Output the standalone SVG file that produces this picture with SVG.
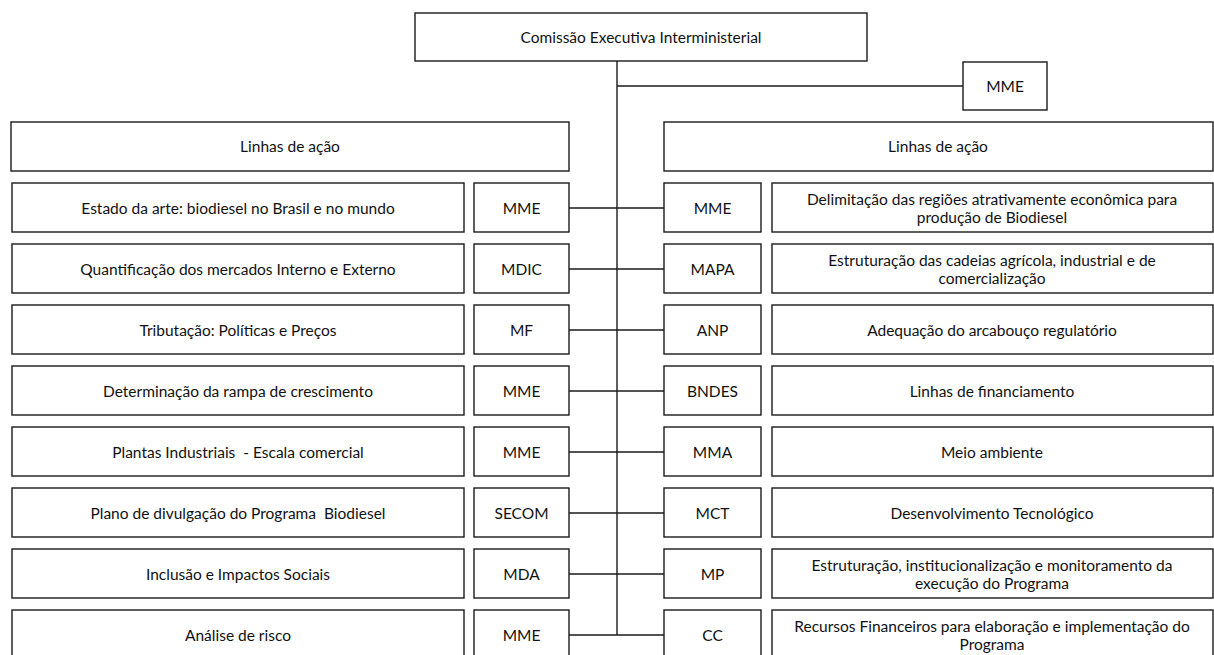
<svg xmlns="http://www.w3.org/2000/svg" width="1214" height="655" viewBox="0 0 1214 655">
<style>
rect{fill:#fff;stroke:#1a1a1a;stroke-width:1.4}
text{font-family:Lato,"Liberation Sans",sans-serif;font-size:15.5px;fill:#111;text-anchor:middle;dominant-baseline:central;white-space:pre}
.c line{stroke:#1a1a1a;stroke-width:1.4}
</style>
<rect x="0" y="0" width="1214" height="655" style="stroke:none"/>
<g class="c" id="connectors">
<line x1="617" y1="61" x2="617" y2="635"/>
<line x1="617" y1="86" x2="963" y2="86"/>
<line x1="569" y1="208" x2="664" y2="208"/>
<line x1="569" y1="269" x2="664" y2="269"/>
<line x1="569" y1="330" x2="664" y2="330"/>
<line x1="569" y1="391" x2="664" y2="391"/>
<line x1="569" y1="452" x2="664" y2="452"/>
<line x1="569" y1="513" x2="664" y2="513"/>
<line x1="569" y1="574" x2="664" y2="574"/>
<line x1="569" y1="635" x2="664" y2="635"/>
</g>
<g id="top"><rect x="415" y="13" width="452" height="48"/><text x="641" y="37">Comissão Executiva Interministerial</text></g>
<g id="mme-top"><rect x="963" y="62" width="84" height="48"/><text x="1005" y="86">MME</text></g>
<g id="linhas-left"><rect x="11" y="122" width="558" height="49"/><text x="290" y="146">Linhas de ação</text></g>
<g id="linhas-right"><rect x="664" y="122" width="549" height="49"/><text x="938" y="146">Linhas de ação</text></g>

<g id="l1"><rect x="12" y="183" width="452" height="49"/><text x="238" y="208">Estado da arte: biodiesel no Brasil e no mundo</text></g>
<g id="l1m"><rect x="474" y="183" width="95" height="49"/><text x="521.5" y="208">MME</text></g>
<g id="l2"><rect x="12" y="244" width="452" height="49"/><text x="238" y="269">Quantificação dos mercados Interno e Externo</text></g>
<g id="l2m"><rect x="474" y="244" width="95" height="49"/><text x="521.5" y="269">MDIC</text></g>
<g id="l3"><rect x="12" y="305" width="452" height="49"/><text x="238" y="330">Tributação: Políticas e Preços</text></g>
<g id="l3m"><rect x="474" y="305" width="95" height="49"/><text x="521.5" y="330">MF</text></g>
<g id="l4"><rect x="12" y="366" width="452" height="49"/><text x="238" y="391">Determinação da rampa de crescimento</text></g>
<g id="l4m"><rect x="474" y="366" width="95" height="49"/><text x="521.5" y="391">MME</text></g>
<g id="l5"><rect x="12" y="427" width="452" height="49"/><text x="238" y="452">Plantas Industriais  - Escala comercial</text></g>
<g id="l5m"><rect x="474" y="427" width="95" height="49"/><text x="521.5" y="452">MME</text></g>
<g id="l6"><rect x="12" y="488" width="452" height="49"/><text x="238" y="513">Plano de divulgação do Programa  Biodiesel</text></g>
<g id="l6m"><rect x="474" y="488" width="95" height="49"/><text x="521.5" y="513">SECOM</text></g>
<g id="l7"><rect x="12" y="549" width="452" height="49"/><text x="238" y="574">Inclusão e Impactos Sociais</text></g>
<g id="l7m"><rect x="474" y="549" width="95" height="49"/><text x="521.5" y="574">MDA</text></g>
<g id="l8"><rect x="12" y="610" width="452" height="49"/><text x="238" y="635">Análise de risco</text></g>
<g id="l8m"><rect x="474" y="610" width="95" height="49"/><text x="521.5" y="635">MME</text></g>

<g id="r1m"><rect x="664" y="183" width="97" height="49"/><text x="712.5" y="208">MME</text></g>
<g id="r1"><rect x="772" y="183" width="441" height="49"/><text x="992" y="199">Delimitação das regiões atrativamente econômica para</text><text x="992" y="217">produção de Biodiesel</text></g>
<g id="r2m"><rect x="664" y="244" width="97" height="49"/><text x="712.5" y="269">MAPA</text></g>
<g id="r2"><rect x="772" y="244" width="441" height="49"/><text x="992" y="260">Estruturação das cadeias agrícola, industrial e de</text><text x="992" y="278">comercialização</text></g>
<g id="r3m"><rect x="664" y="305" width="97" height="49"/><text x="712.5" y="330">ANP</text></g>
<g id="r3"><rect x="772" y="305" width="441" height="49"/><text x="992" y="330">Adequação do arcabouço regulatório</text></g>
<g id="r4m"><rect x="664" y="366" width="97" height="49"/><text x="712.5" y="391">BNDES</text></g>
<g id="r4"><rect x="772" y="366" width="441" height="49"/><text x="992" y="391">Linhas de financiamento</text></g>
<g id="r5m"><rect x="664" y="427" width="97" height="49"/><text x="712.5" y="452">MMA</text></g>
<g id="r5"><rect x="772" y="427" width="441" height="49"/><text x="992" y="452">Meio ambiente</text></g>
<g id="r6m"><rect x="664" y="488" width="97" height="49"/><text x="712.5" y="513">MCT</text></g>
<g id="r6"><rect x="772" y="488" width="441" height="49"/><text x="992" y="513">Desenvolvimento Tecnológico</text></g>
<g id="r7m"><rect x="664" y="549" width="97" height="49"/><text x="712.5" y="574">MP</text></g>
<g id="r7"><rect x="772" y="549" width="441" height="49"/><text x="992" y="565">Estruturação, institucionalização e monitoramento da</text><text x="992" y="583">execução do Programa</text></g>
<g id="r8m"><rect x="664" y="610" width="97" height="49"/><text x="712.5" y="635">CC</text></g>
<g id="r8"><rect x="772" y="610" width="441" height="49"/><text x="992" y="626">Recursos Financeiros para elaboração e implementação do</text><text x="992" y="644">Programa</text></g>
</svg>
